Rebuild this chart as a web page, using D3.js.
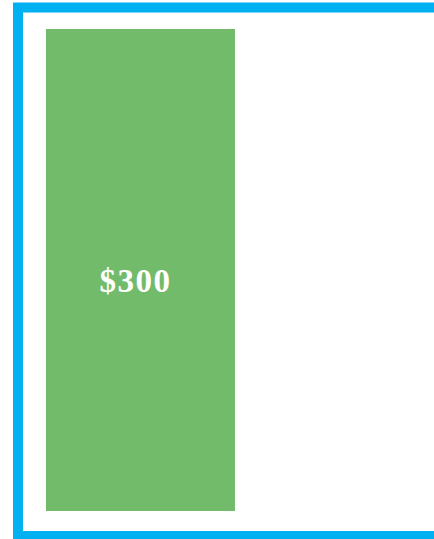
<!DOCTYPE html>
<html>
<head>
<meta charset="utf-8">
<script src="https://cdn.jsdelivr.net/npm/d3@7"></script>
<style>
  body { margin: 0; background: #fff; }
</style>
</head>
<body>
<div id="chart"></div>
<script>
// chart data
var categories = ["Total"];
var values = [300];
var labels = ["$300"];

var width = 434;
var height = 539;

var svg = d3.select("#chart")
    .append("svg")
    .attr("width", width)
    .attr("height", height);

// blue frame, runs off the right edge
svg.append("rect")
    .attr("x", 18)
    .attr("y", 7.5)
    .attr("width", 440)
    .attr("height", 528.5)
    .attr("fill", "none")
    .attr("stroke", "#00b0f0")
    .attr("stroke-width", 10);

var x = d3.scaleBand()
    .domain(categories)
    .range([46, 235]);

var y = d3.scaleLinear()
    .domain([0, d3.max(values)])
    .range([511, 29]);

var bars = svg.selectAll(".bar")
    .data(values)
    .enter()
    .append("g")
    .attr("class", "bar");

bars.append("rect")
    .attr("x", function(d, i) { return x(categories[i]); })
    .attr("y", function(d) { return y(d); })
    .attr("width", x.bandwidth())
    .attr("height", function(d) { return y(0) - y(d); })
    .attr("fill", "#72bb6a");

bars.append("text")
    .attr("x", function(d, i) { return x(categories[i]) + x.bandwidth() / 2 - 5; })
    .attr("y", function(d) { return (y(d) + y(0)) / 2 + 22; })
    .attr("text-anchor", "middle")
    .style("font-family", "'Liberation Serif', serif")
    .style("font-weight", "bold")
    .style("font-size", "33px")
    .style("letter-spacing", "1.5px")
    .style("fill", "white")
    .text(function(d, i) { return labels[i]; });
</script>
</body>
</html>
